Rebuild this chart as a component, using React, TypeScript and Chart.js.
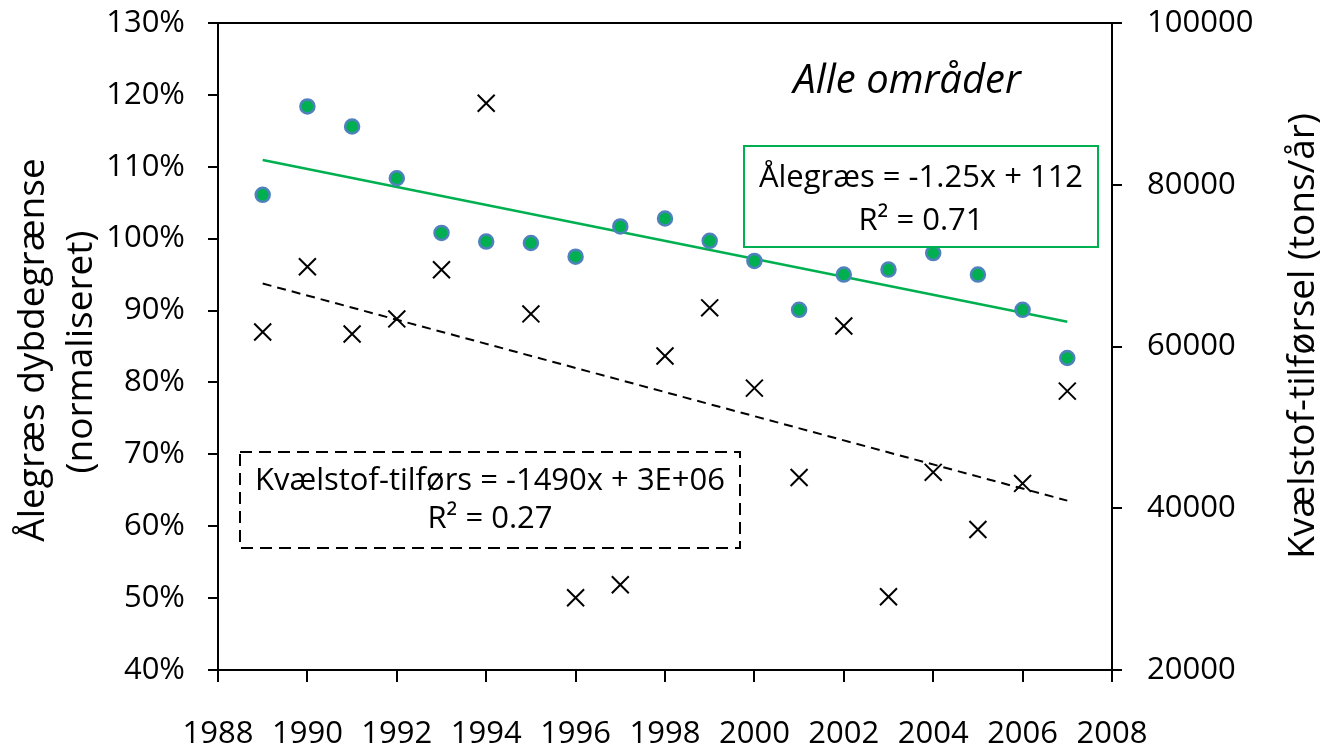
import React, { useEffect, useRef } from 'react';
import { Chart, registerables } from 'chart.js';

Chart.register(...registerables);

// ---- data ----
const years = [1989, 1990, 1991, 1992, 1993, 1994, 1995, 1996, 1997, 1998, 1999, 2000, 2001, 2002, 2003, 2004, 2005, 2006, 2007];
const aalegraes = [106.1, 118.4, 115.6, 108.4, 100.8, 99.6, 99.4, 97.5, 101.7, 102.8, 99.7, 96.9, 90.1, 95.0, 95.7, 98.0, 95.0, 90.1, 83.4];
const kvaelstof = [61800, 69860, 61550, 63410, 69490, 90080, 64030, 28930, 30540, 58820, 64780, 54850, 43810, 62540, 29060, 44440, 37370, 43070, 54480];

const xMin = 1988;
const xMax = 2008;
const xStep = 2;
const leftMin = 40;
const leftMax = 130;
const leftStep = 10;
const rightMin = 20000;
const rightMax = 100000;
const rightStep = 20000;

const chartTitle = 'Alle områder';
const leftTitle = ['Ålegræs dybdegrænse', '(normaliseret)'];
const rightTitle = 'Kvælstof-tilførsel (tons/år)';
const eqGreen = ['Ålegræs = -1.25x + 112', 'R² = 0.71'];
const eqBlack = ['Kvælstof-tilførs = -1490x + 3E+06', 'R² = 0.27'];

const GREEN = '#00B050';
const BLUE = '#4F81BD';
const FONT = '"Open Sans", "Noto Sans", sans-serif';

function trend(xs: number[], ys: number[]) {
  const n = xs.length;
  const mx = xs.reduce((a, b) => a + b, 0) / n;
  const my = ys.reduce((a, b) => a + b, 0) / n;
  let sxy = 0;
  let sxx = 0;
  for (let i = 0; i < n; i++) {
    sxy += (xs[i] - mx) * (ys[i] - my);
    sxx += (xs[i] - mx) * (xs[i] - mx);
  }
  const slope = sxy / sxx;
  const b = my - slope * mx;
  const x0 = xs[0];
  const x1 = xs[n - 1];
  return [
    { x: x0, y: slope * x0 + b },
    { x: x1, y: slope * x1 + b },
  ];
}

const decorPlugin = {
  id: 'decor',
  afterDatasetsDraw(chart: any) {
    const ctx = chart.ctx as CanvasRenderingContext2D;
    const a = chart.chartArea;
    ctx.save();
    // top frame line
    ctx.strokeStyle = '#000';
    ctx.lineWidth = 2;
    ctx.beginPath();
    ctx.moveTo(a.left, a.top);
    ctx.lineTo(a.right, a.top);
    ctx.stroke();

    // green equation box
    ctx.fillStyle = '#fff';
    ctx.fillRect(744, 146, 354, 101);
    ctx.strokeStyle = GREEN;
    ctx.lineWidth = 2;
    ctx.strokeRect(744, 146, 354, 101);
    ctx.fillStyle = '#000';
    ctx.font = `31px ${FONT}`;
    ctx.textAlign = 'center';
    ctx.textBaseline = 'alphabetic';
    ctx.fillText(eqGreen[0], 921, 187);
    ctx.fillText(eqGreen[1], 921, 230);

    // dashed equation box
    ctx.fillStyle = '#fff';
    ctx.fillRect(240, 452, 500, 96);
    ctx.strokeStyle = '#000';
    ctx.setLineDash([12, 7]);
    ctx.strokeRect(240, 452, 500, 96);
    ctx.setLineDash([]);
    ctx.fillStyle = '#000';
    ctx.fillText(eqBlack[0], 490, 490);
    ctx.fillText(eqBlack[1], 490, 528);

    // chart title
    ctx.font = `italic 40px ${FONT}`;
    ctx.fillText(chartTitle, 907, 93);

    // left axis title
    ctx.font = `37px ${FONT}`;
    ctx.save();
    ctx.translate(44, 350);
    ctx.rotate(-Math.PI / 2);
    ctx.fillText(leftTitle[0], 0, 0);
    ctx.restore();
    ctx.save();
    ctx.translate(92, 352);
    ctx.rotate(-Math.PI / 2);
    ctx.fillText(leftTitle[1], 0, 0);
    ctx.restore();

    // right axis title
    ctx.save();
    ctx.translate(1314, 336);
    ctx.rotate(-Math.PI / 2);
    ctx.fillText(rightTitle, 0, 0);
    ctx.restore();

    ctx.restore();
  },
};

function fixVertical(width: number) {
  return (s: any) => {
    s.width = width;
    s.paddingTop = 0;
    s.paddingBottom = 0;
  };
}

export default function App() {
  const ref = useRef<HTMLCanvasElement | null>(null);

  useEffect(() => {
    if (!ref.current) return;
    const greenPts = years.map((x, i) => ({ x, y: aalegraes[i] }));
    const blackPts = years.map((x, i) => ({ x, y: kvaelstof[i] }));
    const tickFont = { family: FONT, size: 31 };

    const chart = new Chart(ref.current, {
      type: 'scatter',
      data: {
        datasets: [
          {
            label: 'Ålegræs',
            data: greenPts,
            yAxisID: 'y',
            pointStyle: 'circle',
            pointRadius: 7,
            pointBackgroundColor: GREEN,
            pointBorderColor: BLUE,
            pointBorderWidth: 2.5,
            order: 0,
          },
          {
            label: 'Kvælstof-tilførsel',
            data: blackPts,
            yAxisID: 'y2',
            pointStyle: 'crossRot',
            pointRadius: 12,
            pointBorderColor: '#000',
            pointBackgroundColor: '#000',
            pointBorderWidth: 2,
            order: 0,
          },
          {
            label: 'Ålegræs trend',
            data: trend(years, aalegraes),
            yAxisID: 'y',
            showLine: true,
            pointRadius: 0,
            borderColor: GREEN,
            borderWidth: 2.5,
            order: 1,
          },
          {
            label: 'Kvælstof trend',
            data: trend(years, kvaelstof),
            yAxisID: 'y2',
            showLine: true,
            pointRadius: 0,
            borderColor: '#000',
            borderWidth: 2,
            borderDash: [9, 6],
            order: 1,
          },
        ],
      },
      options: {
        animation: false,
        responsive: false,
        layout: { padding: { top: 23, left: 0, right: 0, bottom: 0 } },
        plugins: {
          legend: { display: false },
          tooltip: { enabled: false },
          title: { display: false },
        },
        scales: {
          x: {
            type: 'linear',
            position: 'bottom',
            min: xMin,
            max: xMax,
            afterFit: (s: any) => {
              s.height = 75;
              s.paddingLeft = 0;
              s.paddingRight = 0;
            },
            ticks: {
              stepSize: xStep,
              font: tickFont,
              color: '#000',
              padding: 34,
              maxRotation: 0,
              autoSkip: false,
              callback: (v: any) => String(v),
            },
            grid: { drawOnChartArea: false, drawTicks: true, tickLength: 12, color: '#000', lineWidth: 2 },
            border: { display: true, color: '#000', width: 2 },
          },
          y: {
            type: 'linear',
            position: 'left',
            min: leftMin,
            max: leftMax,
            afterFit: fixVertical(218),
            ticks: {
              stepSize: leftStep,
              font: tickFont,
              color: '#000',
              padding: 23,
              callback: (v: any) => `${v}%`,
            },
            grid: { drawOnChartArea: false, drawTicks: true, tickLength: 10, color: '#000', lineWidth: 2 },
            border: { display: true, color: '#000', width: 2 },
          },
          y2: {
            type: 'linear',
            position: 'right',
            min: rightMin,
            max: rightMax,
            afterFit: fixVertical(211),
            ticks: {
              stepSize: rightStep,
              font: tickFont,
              color: '#000',
              padding: 25,
              callback: (v: any) => String(v),
            },
            grid: { drawOnChartArea: false, drawTicks: true, tickLength: 10, color: '#000', lineWidth: 2 },
            border: { display: true, color: '#000', width: 2 },
          },
        },
      },
      plugins: [decorPlugin],
    } as any);

    return () => chart.destroy();
  }, []);

  return (
    <div style={{ position: 'absolute', left: 0, top: 0, width: 1323, height: 745, background: '#fff' }}>
      <canvas ref={ref} width={1323} height={745} style={{ display: 'block' }} />
    </div>
  );
}
